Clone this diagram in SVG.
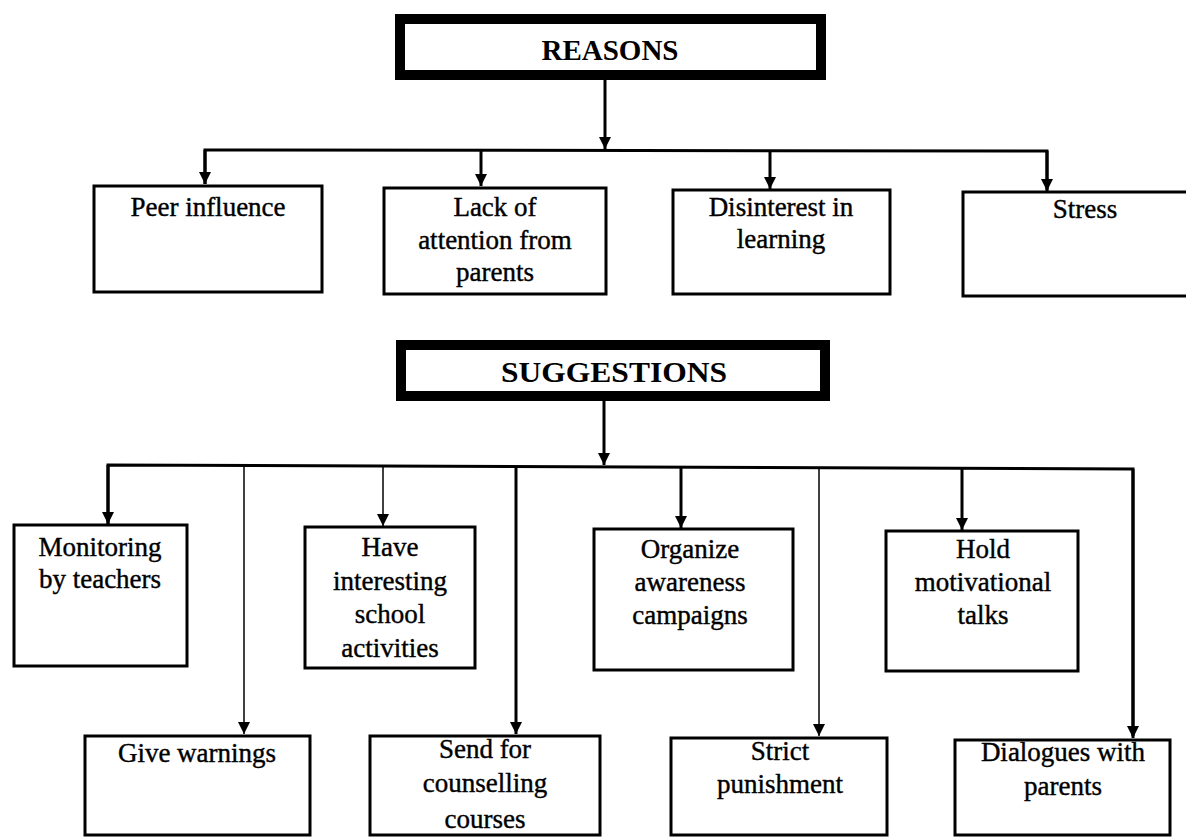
<svg xmlns="http://www.w3.org/2000/svg" width="1186" height="838" viewBox="0 0 1186 838">
<style>
.box{fill:#fff;stroke:#000;stroke-width:3}
.head{fill:#fff;stroke:#000;stroke-width:10}
.t{font-family:"Liberation Serif","Times New Roman",serif;font-size:27px;fill:#000;stroke:#000;stroke-width:0.4;text-anchor:middle}
.h{font-family:"Liberation Serif","Times New Roman",serif;font-size:29px;font-weight:bold;fill:#000;text-anchor:middle}
.c{fill:none;stroke:#000;stroke-width:3}
.thin{fill:none;stroke:#000;stroke-width:1.5}
</style>
<defs>
<marker id="dn" markerUnits="userSpaceOnUse" markerWidth="14" markerHeight="14" viewBox="0 0 14 14" refX="7" refY="13" orient="0">
<path d="M1,1 L13,1 L7,13 Z" fill="#000"/>
</marker>
</defs>
<rect width="1186" height="838" fill="#fff"/>
<g id="connectors">
<line class="c" x1="605" y1="80" x2="605" y2="149" marker-end="url(#dn)"/>
<polyline class="c" points="205,184 205,150 1047,151 1047,190"/>
<line class="c" x1="205" y1="150" x2="205" y2="184" marker-end="url(#dn)"/>
<line class="c" x1="481" y1="150" x2="481" y2="186" marker-end="url(#dn)"/>
<line class="c" x1="770" y1="151" x2="770" y2="189" marker-end="url(#dn)"/>
<line class="c" x1="1047" y1="151" x2="1047" y2="191" marker-end="url(#dn)"/>
<line class="c" x1="604" y1="400" x2="604" y2="465" marker-end="url(#dn)"/>
<polyline class="c" points="108,524 108,465 1133,469 1133,736"/>
<line class="c" x1="108" y1="465" x2="108" y2="524" marker-end="url(#dn)"/>
<line class="thin" x1="244" y1="466" x2="244" y2="734" marker-end="url(#dn)"/>
<line class="thin" x1="383" y1="466" x2="383" y2="526" marker-end="url(#dn)"/>
<line class="c" x1="516" y1="467" x2="516" y2="734" marker-end="url(#dn)"/>
<line class="c" x1="681" y1="467" x2="681" y2="528" marker-end="url(#dn)"/>
<line class="thin" x1="819" y1="468" x2="819" y2="736" marker-end="url(#dn)"/>
<line class="c" x1="962" y1="468" x2="962" y2="530" marker-end="url(#dn)"/>
<line class="c" x1="1133" y1="469" x2="1133" y2="738" marker-end="url(#dn)"/>
</g>
<g id="reasons">
<rect class="head" x="400" y="19" width="421" height="56"/>
<text class="h" x="610" y="60">REASONS</text>
</g>
<g id="peer">
<rect class="box" x="94" y="186" width="228" height="106"/>
<text class="t" x="208" y="216">Peer influence</text>
</g>
<g id="lack">
<rect class="box" x="384" y="188" width="222" height="106"/>
<text class="t" x="495" y="216">Lack of</text>
<text class="t" x="495" y="249">attention from</text>
<text class="t" x="495" y="281">parents</text>
</g>
<g id="disinterest">
<rect class="box" x="673" y="190" width="217" height="104"/>
<text class="t" x="781" y="216">Disinterest in</text>
<text class="t" x="781" y="248">learning</text>
</g>
<g id="stress">
<rect class="box" x="963" y="192" width="230" height="104"/>
<text class="t" x="1085" y="218">Stress</text>
</g>
<g id="suggestions">
<rect class="head" x="401" y="345" width="424" height="51"/>
<text class="h" x="614" y="382" textLength="226" lengthAdjust="spacingAndGlyphs">SUGGESTIONS</text>
</g>
<g id="monitoring">
<rect class="box" x="14" y="525" width="173" height="141"/>
<text class="t" x="100" y="556">Monitoring</text>
<text class="t" x="100" y="588">by teachers</text>
</g>
<g id="interesting">
<rect class="box" x="305" y="527" width="170" height="141"/>
<text class="t" x="390" y="556">Have</text>
<text class="t" x="390" y="590">interesting</text>
<text class="t" x="390" y="623">school</text>
<text class="t" x="390" y="657">activities</text>
</g>
<g id="organize">
<rect class="box" x="594" y="529" width="199" height="141"/>
<text class="t" x="690" y="558">Organize</text>
<text class="t" x="690" y="591">awareness</text>
<text class="t" x="690" y="624">campaigns</text>
</g>
<g id="motivational">
<rect class="box" x="886" y="531" width="192" height="140"/>
<text class="t" x="983" y="558">Hold</text>
<text class="t" x="983" y="591">motivational</text>
<text class="t" x="983" y="624">talks</text>
</g>
<g id="warnings">
<rect class="box" x="85" y="736" width="225" height="99"/>
<text class="t" x="197" y="762">Give warnings</text>
</g>
<g id="counselling">
<rect class="box" x="370" y="736" width="230" height="99"/>
<text class="t" x="485" y="758">Send for</text>
<text class="t" x="485" y="792">counselling</text>
<text class="t" x="485" y="828">courses</text>
</g>
<g id="punishment">
<rect class="box" x="671" y="738" width="216" height="97"/>
<text class="t" x="780" y="760">Strict</text>
<text class="t" x="780" y="793">punishment</text>
</g>
<g id="dialogues">
<rect class="box" x="955" y="740" width="215" height="95"/>
<text class="t" x="1063" y="761">Dialogues with</text>
<text class="t" x="1063" y="795">parents</text>
</g>
</svg>
